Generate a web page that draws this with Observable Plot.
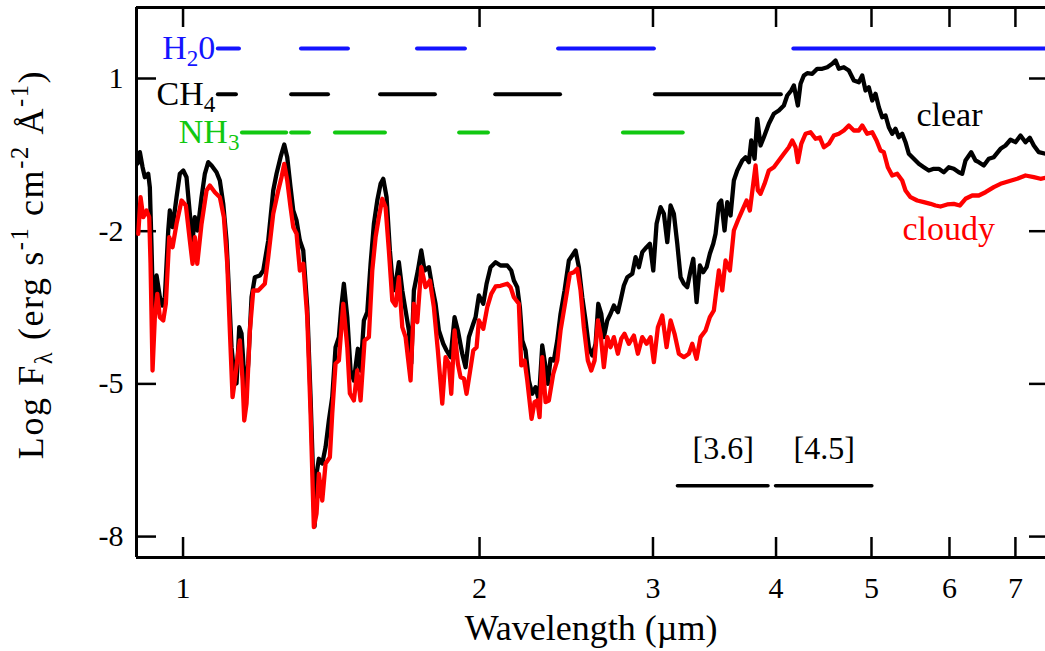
<!DOCTYPE html>
<html><head><meta charset="utf-8">
<script src="https://cdn.jsdelivr.net/npm/d3@7"></script>
<script src="https://cdn.jsdelivr.net/npm/@observablehq/plot@0.6"></script>
<style>
html,body{margin:0;padding:0;background:#fff;overflow:hidden}
#chart svg{display:block}
</style></head><body><div id="chart"></div>
<script>
// ---- data (wavelength in micron, log F_lambda) ----
const wavelengthClear = [0.8991,0.9040,0.9097,0.9146,0.9218,0.9253,0.9290,0.9323,0.9345,0.9400,0.9473,0.9532,0.9584,0.9660,0.9696,0.9758,0.9849,0.9925,1.0005,1.0082,1.0160,1.0225,1.0280,1.0345,1.0442,1.0523,1.0607,1.0689,1.0814,1.0898,1.0985,1.1070,1.1140,1.1200,1.1271,1.1332,1.1404,1.1465,1.1527,1.1581,1.1646,1.1737,1.1828,1.1967,1.2062,1.2204,1.2347,1.2443,1.2560,1.2669,1.2758,1.2857,1.2939,1.3039,1.3140,1.3245,1.3369,1.3473,1.3558,1.3599,1.3679,1.3737,1.3847,1.3954,1.4062,1.4174,1.4284,1.4395,1.4476,1.4564,1.4681,1.4794,1.4909,1.5049,1.5144,1.5262,1.5383,1.5503,1.5623,1.5747,1.5869,1.5970,1.6093,1.6218,1.6347,1.6436,1.6563,1.6695,1.6825,1.6955,1.7050,1.7154,1.7315,1.7453,1.7588,1.7766,1.7907,1.8046,1.8186,1.8374,1.8516,1.8690,1.8866,1.9012,1.9208,1.9357,1.9507,1.9709,1.9815,1.9969,2.0175,2.0331,2.0522,2.0763,2.1007,2.1339,2.1539,2.1671,2.1844,2.1977,2.2101,2.2272,2.2444,2.2623,2.2798,2.2975,2.3158,2.3337,2.3463,2.3612,2.3795,2.3985,2.4170,2.4397,2.4644,2.4841,2.5033,2.5227,2.5429,2.5626,2.5824,2.6030,2.6232,2.6398,2.6584,2.6746,2.6960,2.7168,2.7379,2.7636,2.7811,2.8026,2.8250,2.8582,2.8803,2.9026,2.9258,2.9554,2.9783,3.0020,3.0253,3.0537,3.0774,3.1019,3.1259,3.1501,3.1753,3.1999,3.2247,3.2504,3.2756,3.2963,3.3218,3.3475,3.3742,3.4003,3.4266,3.4539,3.4726,3.4995,3.5192,3.5464,3.5689,3.5965,3.6244,3.6533,3.6963,3.7249,3.7537,3.7748,3.8040,3.8281,3.8577,3.8876,3.9333,3.9796,4.0264,4.0737,4.1062,4.1448,4.1701,4.2093,4.2359,4.2688,4.3028,4.3534,4.4046,4.4563,4.5087,4.5617,4.5970,4.6326,4.6870,4.7421,4.7979,4.8543,4.8929,4.9308,4.9690,5.0086,5.0475,5.0866,5.1271,5.1668,5.2068,5.2481,5.2887,5.3297,5.3722,5.4138,5.4557,5.5198,5.5848,5.6504,5.7169,5.7840,5.8520,5.9208,5.9904,6.0608,6.1320,6.1810,6.2289,6.3125,6.3763,6.4256,6.5011,6.5775,6.6549,6.7600,6.8395,6.9198,7.0012,7.0835,7.1668,7.2393,7.3074,7.3932,7.5100];
const fluxClear = [-0.670,-0.448,-0.743,-0.939,-0.872,-1.135,-2.314,-3.558,-3.460,-2.870,-3.297,-3.460,-3.297,-1.986,-1.593,-1.921,-1.332,-0.872,-0.807,-0.939,-1.658,-2.183,-1.725,-1.986,-1.332,-0.872,-0.644,-0.709,-0.841,-1.004,-1.462,-2.183,-3.297,-4.279,-4.802,-4.992,-3.886,-4.010,-4.737,-5.189,-4.599,-3.297,-2.904,-2.870,-2.772,-2.183,-1.200,-0.872,-0.546,-0.297,-0.546,-1.135,-1.593,-1.790,-2.183,-2.379,-3.493,-5.261,-6.898,-7.801,-6.701,-6.471,-6.564,-6.243,-5.719,-5.261,-4.279,-4.082,-3.493,-3.033,-3.690,-4.737,-4.933,-4.310,-4.737,-3.754,-3.591,-2.640,-1.855,-1.397,-1.069,-0.970,-1.332,-2.379,-3.165,-3.033,-2.609,-3.165,-3.558,-3.951,-4.599,-3.165,-2.772,-2.379,-2.772,-2.707,-3.100,-3.426,-3.951,-4.212,-4.344,-4.475,-3.690,-3.951,-4.408,-4.672,-4.082,-3.819,-3.690,-3.263,-3.426,-3.033,-2.707,-2.609,-2.674,-2.674,-2.772,-2.968,-3.100,-3.493,-4.147,-4.344,-4.933,-5.194,-5.065,-5.326,-4.245,-4.672,-4.998,-4.507,-4.540,-4.147,-3.623,-3.165,-2.576,-2.477,-2.379,-2.707,-3.297,-3.754,-4.279,-4.442,-4.212,-3.426,-3.623,-4.082,-3.754,-3.623,-3.460,-3.591,-3.361,-3.067,-2.904,-2.837,-2.511,-2.707,-2.412,-2.314,-2.247,-2.772,-1.855,-1.528,-1.658,-2.216,-1.495,-1.658,-2.247,-2.904,-3.033,-3.100,-2.772,-2.542,-3.395,-2.674,-2.805,-2.707,-2.444,-2.247,-2.051,-1.462,-1.397,-1.986,-1.430,-1.692,-1.004,-0.807,-0.611,-0.546,-0.644,-0.218,-0.578,0.208,-0.316,-0.153,0.110,0.307,0.371,0.470,0.666,0.764,0.863,0.470,0.896,1.059,1.104,1.092,1.191,1.191,1.222,1.289,1.354,1.191,1.222,1.157,0.961,0.927,1.059,0.764,0.829,0.568,0.699,0.436,0.240,0.273,0.043,-0.086,0.012,-0.153,-0.086,-0.251,-0.479,-0.578,-0.676,-0.743,-0.807,-0.774,-0.774,-0.841,-0.743,-0.774,-0.841,-0.872,-0.611,-0.448,-0.611,-0.644,-0.709,-0.578,-0.546,-0.381,-0.316,-0.204,-0.251,-0.120,-0.251,-0.165,-0.316,-0.448,-0.479];
const wavelengthCloudy = [0.9006,0.9055,0.9112,0.9182,0.9240,0.9268,0.9312,0.9362,0.9415,0.9473,0.9548,0.9606,0.9683,0.9758,0.9849,0.9965,1.0066,1.0160,1.0225,1.0280,1.0338,1.0442,1.0565,1.0647,1.0771,1.0898,1.1001,1.1089,1.1156,1.1227,1.1287,1.1359,1.1420,1.1493,1.1538,1.1601,1.1691,1.1784,1.1923,1.2107,1.2204,1.2347,1.2493,1.2589,1.2669,1.2758,1.2857,1.2939,1.3039,1.3140,1.3245,1.3369,1.3473,1.3577,1.3663,1.3737,1.3847,1.3954,1.4095,1.4174,1.4284,1.4395,1.4543,1.4681,1.4770,1.4909,1.5028,1.5144,1.5287,1.5441,1.5564,1.5685,1.5806,1.5932,1.6055,1.6180,1.6309,1.6436,1.6563,1.6695,1.6825,1.6915,1.7022,1.7154,1.7291,1.7453,1.7629,1.7808,1.7974,1.8143,1.8331,1.8473,1.8616,1.8721,1.8866,1.9012,1.9132,1.9281,1.9402,1.9553,1.9709,1.9862,1.9969,2.0175,2.0365,2.0556,2.0763,2.1007,2.1339,2.1503,2.1671,2.1925,2.2049,2.2220,2.2361,2.2586,2.2745,2.2889,2.3013,2.3158,2.3337,2.3518,2.3761,2.3985,2.4170,2.4454,2.4702,2.4934,2.5131,2.5327,2.5523,2.5763,2.5969,2.6171,2.6374,2.6541,2.6746,2.6960,2.7168,2.7379,2.7636,2.7857,2.8072,2.8356,2.8689,2.8959,2.9258,2.9554,2.9832,3.0062,3.0345,3.0659,3.0969,3.1259,3.1552,3.1872,3.2247,3.2626,3.2885,3.3218,3.3529,3.3924,3.4266,3.4588,3.4995,3.5274,3.5548,3.5906,3.6244,3.6584,3.6963,3.7336,3.7625,3.7925,3.8130,3.8335,3.8577,3.8940,3.9333,3.9796,4.0264,4.0737,4.1214,4.1546,4.1868,4.2093,4.2429,4.2858,4.3362,4.3871,4.4315,4.4731,4.5255,4.5787,4.6326,4.6870,4.7421,4.7979,4.8543,4.8929,4.9505,5.0086,5.0592,5.1067,5.1463,5.1946,5.2481,5.3098,5.3722,5.4138,5.4775,5.5639,5.6504,5.7396,5.8071,5.8753,5.9681,6.0608,6.1464,6.2289,6.3273,6.4256,6.5270,6.6549,6.7600,6.8925,7.0290,7.1668,7.3074,7.4227,7.5100];
const fluxCloudy = [-2.051,-1.332,-1.725,-1.593,-1.725,-2.634,-4.737,-3.690,-3.230,-3.690,-3.754,-3.426,-2.118,-2.314,-1.855,-1.397,-1.495,-2.183,-2.640,-2.118,-2.640,-1.855,-1.200,-1.102,-1.234,-1.332,-1.725,-2.640,-3.951,-5.261,-4.933,-4.475,-4.147,-4.933,-5.719,-5.385,-3.951,-3.165,-3.165,-3.033,-2.511,-1.658,-1.200,-0.939,-0.676,-1.004,-1.528,-1.921,-2.051,-2.772,-2.640,-3.690,-5.581,-7.815,-7.546,-6.766,-7.291,-6.564,-6.440,-5.581,-4.599,-4.540,-3.426,-4.279,-5.189,-5.326,-4.737,-5.326,-4.147,-4.082,-2.772,-2.118,-1.725,-1.363,-1.528,-2.379,-3.361,-3.460,-2.904,-3.886,-4.082,-4.475,-4.933,-3.426,-3.788,-2.707,-3.100,-2.968,-3.493,-4.344,-5.385,-4.475,-4.605,-5.194,-3.951,-4.605,-4.868,-4.894,-5.194,-4.776,-4.344,-4.279,-3.754,-3.917,-3.493,-3.230,-3.086,-3.073,-3.033,-3.100,-3.297,-3.426,-4.638,-4.540,-4.933,-5.686,-5.359,-5.326,-5.654,-4.475,-5.359,-5.326,-4.802,-4.540,-3.951,-3.361,-2.837,-2.805,-2.739,-3.165,-3.886,-4.540,-4.737,-4.540,-3.754,-4.016,-4.672,-4.082,-4.279,-4.082,-4.408,-4.114,-4.016,-4.212,-4.049,-4.408,-4.082,-4.212,-4.082,-4.574,-3.886,-3.656,-4.279,-3.754,-4.016,-4.408,-4.475,-4.408,-4.212,-4.507,-4.082,-3.951,-3.690,-3.558,-2.772,-3.165,-2.576,-2.772,-1.986,-1.790,-1.593,-1.397,-1.593,-1.069,-0.709,-1.200,-1.265,-1.069,-0.807,-0.743,-0.611,-0.479,-0.350,-0.218,-0.350,-0.644,-0.283,-0.086,-0.055,-0.185,-0.159,-0.350,-0.283,-0.120,-0.086,-0.022,0.077,-0.022,-0.022,0.077,-0.086,-0.055,-0.218,-0.415,-0.448,-0.743,-0.906,-0.872,-1.004,-1.200,-1.332,-1.397,-1.430,-1.462,-1.495,-1.515,-1.475,-1.462,-1.495,-1.363,-1.299,-1.299,-1.234,-1.135,-1.069,-1.018,-0.970,-0.906,-0.939,-0.970,-0.951];

const xTicks = [1, 2, 3, 4, 5, 6, 7];
const yTicks = [1, -2, -5, -8];

const moleculeNames = ["H₂0", "CH₄", "NH₃"];
const moleculeLevels = [1.59, 0.69, -0.06];
const h2oBands = [[1.086, 1.141], [1.319, 1.472], [1.730, 1.935], [2.406, 3.01], [4.17, 7.51]];
const ch4Bands = [[1.086, 1.133], [1.289, 1.405], [1.587, 1.804], [2.077, 2.417], [3.017, 4.05]];
const nh3Bands = [[1.149, 1.274], [1.289, 1.344], [1.428, 1.605], [1.909, 2.042], [2.80, 3.22]];

const filterNames = ["[3.6]", "[4.5]"];
const filterBands = [[3.18, 3.93], [4.0, 5.01]];

const curveNames = ["clear", "cloudy"];

// ---- layout / styles ----
const xDomain = [0.8969, 7.51];
const yDomain = [-8.411, 2.395];
const FONT = "'Liberation Serif', 'Times New Roman', Times, serif";
const moleculeColors = ["#1414ff", "#000000", "#11c811"];
const filterLevel = -7.0, filterLabelLevel = -6.27;
const clearLabel = {x: 6.0, y: 0.29}, cloudyLabel = {x: 5.99, y: -1.95};
const yLabelText = "Log Fλ (erg s⁻¹ cm⁻² Å⁻¹)";
const LABEL_FS = 34, TICK_FS = 30, AXIS_FS = 36, YLABEL_FS = 36;

const clear = wavelengthClear.map((w, i) => ({w, f: fluxClear[i]}));
const cloudy = wavelengthCloudy.map((w, i) => ({w, f: fluxCloudy[i]}));
const bandSets = [h2oBands, ch4Bands, nh3Bands];

const bandMarks = bandSets.map((bands, r) =>
  Plot.ruleY(bands, {y: () => moleculeLevels[r], x1: d => d[0], x2: d => d[1],
    stroke: moleculeColors[r], strokeWidth: 4, strokeLinecap: "round"}));
const bandLabels = moleculeNames.map((name, r) =>
  Plot.text([name], {x: () => bandSets[r][0][0], y: () => moleculeLevels[r], text: d => d,
    textAnchor: "end", lineAnchor: "middle", dx: -3, fill: moleculeColors[r], fontSize: LABEL_FS}));

const chart = Plot.plot({
  width: 1045, height: 651,
  marginLeft: 136, marginRight: 0, marginTop: 7, marginBottom: 94,
  style: {fontFamily: FONT, background: "#fff", color: "#000"},
  x: {type: "log", domain: xDomain},
  y: {domain: yDomain},
  marks: [
    Plot.axisX({ticks: xTicks, tickSize: 0, tickPadding: 19, fontSize: TICK_FS, tickFormat: d => String(d), label: null}),
    Plot.axisY({ticks: yTicks, tickSize: 0, tickPadding: 13, fontSize: TICK_FS, tickFormat: d => String(d), label: null}),
    // frame (left, top, bottom)
    Plot.ruleX([xDomain[0]], {strokeWidth: 3}),
    Plot.ruleY([yDomain[1]], {strokeWidth: 3}),
    Plot.ruleY([yDomain[0]], {strokeWidth: 3}),
    // inward ticks
    Plot.ruleX(xTicks, {x: d => d, y1: () => yDomain[0], y2: () => yDomain[0], insetTop: -20, strokeWidth: 2.5}),
    Plot.ruleX(xTicks, {x: d => d, y1: () => yDomain[1], y2: () => yDomain[1], insetBottom: -20, strokeWidth: 2.5}),
    Plot.ruleY(yTicks, {y: d => d, x1: () => xDomain[0], x2: () => xDomain[0], insetRight: -20, strokeWidth: 2.5}),
    Plot.ruleY(yTicks, {y: d => d, x1: () => xDomain[1], x2: () => xDomain[1], insetLeft: -16, strokeWidth: 2.5}),
    // molecular bands
    ...bandMarks,
    ...bandLabels,
    // filters
    Plot.ruleY(filterBands, {y: () => filterLevel, x1: d => d[0], x2: d => d[1], stroke: "#000", strokeWidth: 3.5, strokeLinecap: "round"}),
    Plot.text(filterNames, {x: (d, i) => Math.sqrt(filterBands[i][0] * filterBands[i][1]), y: () => filterLabelLevel, text: d => d, fontSize: 32, fill: "#000"}),
    // spectra
    Plot.line(clear, {x: "w", y: "f", stroke: "#000", strokeWidth: 4.3, strokeLinejoin: "round", strokeLinecap: "round"}),
    Plot.line(cloudy, {x: "w", y: "f", stroke: "#ff0000", strokeWidth: 4.3, strokeLinejoin: "round", strokeLinecap: "round"}),
    Plot.text([curveNames[0]], {x: () => clearLabel.x, y: () => clearLabel.y, text: d => d, fontSize: LABEL_FS, fill: "#000"}),
    Plot.text([curveNames[1]], {x: () => cloudyLabel.x, y: () => cloudyLabel.y, text: d => d, fontSize: LABEL_FS, fill: "#ff0000"}),
    // axis titles
    Plot.text(["Wavelength (µm)"], {frameAnchor: "bottom", textAnchor: "middle", lineAnchor: "middle", dy: 71, text: d => d, fontSize: AXIS_FS, fill: "#000"}),
    Plot.text([yLabelText], {frameAnchor: "left", textAnchor: "middle", lineAnchor: "middle", dx: -105, dy: -18, rotate: -90, text: d => d, fontSize: YLABEL_FS, fill: "#000"})
  ]
});

// ---- rich text (sub/superscripts) ----
const rich = new Map([
  ["H₂0", {fs: LABEL_FS, sub: 0.2, parts: [["H"], ["2", "sub"], ["0"]]}],
  ["CH₄", {fs: LABEL_FS, sub: 0.2, parts: [["CH"], ["4", "sub"]]}],
  ["NH₃", {fs: LABEL_FS, sub: 0.2, parts: [["NH"], ["3", "sub"]]}],
  [yLabelText, {fs: YLABEL_FS, sub: 0.24, spacing: 1.6, parts: [["Log F"], ["λ", "sub"], [" (erg s"], ["-1", "sup"], [" cm"], ["-2", "sup"], [" Å"], ["-1", "sup"], [")"]]}]
]);
function setRich(t, parts, fs, sub) {
  while (t.firstChild) t.removeChild(t.firstChild);
  let offset = 0;
  for (const [s, kind] of parts) {
    const ts = document.createElementNS("http://www.w3.org/2000/svg", "tspan");
    const target = kind === "sub" ? sub * fs : kind === "sup" ? -0.42 * fs : 0;
    const dy = target - offset;
    if (dy) ts.setAttribute("dy", dy.toFixed(2));
    offset = target;
    if (kind) ts.setAttribute("font-size", (0.68 * fs).toFixed(1));
    ts.textContent = s;
    t.appendChild(ts);
  }
}
for (const t of chart.querySelectorAll("text")) {
  const r = rich.get(t.textContent);
  if (r) {
    setRich(t, r.parts, r.fs, r.sub);
    if (r.spacing) t.setAttribute("letter-spacing", r.spacing);
  }
}
document.getElementById("chart").appendChild(chart);
</script>
</body></html>
